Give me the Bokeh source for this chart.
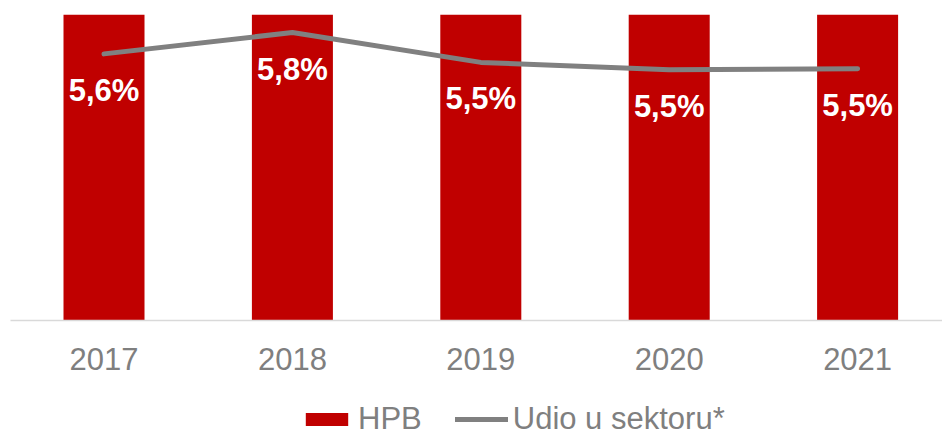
from bokeh.plotting import figure
from bokeh.layouts import column
from bokeh.models import Range1d, LinearAxis, FixedTicker, Legend, LegendItem, ColumnDataSource
from bokeh.core.properties import value
from bokeh.embed import file_html
from bokeh.resources import INLINE

years = [2017, 2018, 2019, 2020, 2021]
hpb = [100, 100, 100, 100, 100]          # bars run past the top of the axis
udio = [5.6, 5.8, 5.52, 5.45, 5.46]      # share in sector (%)
labels = ["5,6%", "5,8%", "5,5%", "5,5%", "5,5%"]
series_names = ["HPB", "Udio u sektoru*"]

FONT = value("Liberation Sans")
GRAY_TXT = "#7f7f7f"
RED = "#C00000"
GRAY_LINE = "#808080"

src = ColumnDataSource(dict(x=years, hpb=hpb, udio=udio, lab=labels))

p = figure(frame_width=932, frame_height=306, output_backend="svg", toolbar_location=None,
           x_range=Range1d(2016.5037, 2021.4506), y_range=Range1d(0, 100),
           min_border_left=10, min_border_right=0, min_border_top=14, min_border_bottom=62,
           x_axis_location=None, y_axis_location=None)
p.outline_line_color = None
p.xgrid.visible = False
p.ygrid.visible = False
p.extra_y_ranges = {"line": Range1d(3.1005, 5.969)}

bars = p.vbar(x="x", top="hpb", width=0.43, source=src, fill_color=RED, line_color=None)
ln = p.line(x="x", y="udio", source=src, y_range_name="line", line_color=GRAY_LINE,
            line_width=5, line_cap="round", line_join="round")
p.text(x="x", y="udio", text="lab", source=src, y_range_name="line", text_font=FONT,
       text_font_style="bold", text_font_size="31px", text_color="white",
       text_align="center", text_baseline="alphabetic", y_offset=36.5)

xa = LinearAxis(ticker=FixedTicker(ticks=years), axis_label=None)
xa.axis_line_color = "#d9d9d9"
xa.axis_line_width = 1.5
xa.major_tick_line_color = None
xa.minor_tick_line_color = None
xa.major_tick_out = 0
xa.major_tick_in = 0
xa.minor_tick_out = 0
xa.minor_tick_in = 0
xa.major_label_text_font = "Liberation Sans"
xa.major_label_text_font_size = "31px"
xa.major_label_text_color = GRAY_TXT
xa.major_label_standoff = 27
p.add_layout(xa, "below")

# legend lives in its own strip below the chart; its sample glyphs are invisible there
lg = figure(width=942, height=74, output_backend="svg", toolbar_location=None,
            x_range=Range1d(0, 1), y_range=Range1d(0, 1),
            min_border_left=0, min_border_right=0, min_border_top=0, min_border_bottom=0,
            x_axis_location=None, y_axis_location=None)
lg.outline_line_color = None
lg.xgrid.visible = False
lg.ygrid.visible = False
lb = lg.vbar(x=[0.5], top=[0], bottom=[0], width=0.01, fill_color=RED, line_color=None)
ll = lg.line(x=[-10, -9], y=[1, 1], line_color=GRAY_LINE, line_width=5, line_cap="round")

legend = Legend(items=[LegendItem(label=series_names[0], renderers=[lb]),
                       LegendItem(label=series_names[1], renderers=[ll])],
                orientation="horizontal", location=(290, 19))
legend.label_text_font = "Liberation Sans"
legend.label_text_font_size = "31px"
legend.label_text_color = GRAY_TXT
legend.label_height = 20
legend.glyph_width = 53
legend.glyph_height = 16
legend.label_standoff = 5
legend.spacing = 33
legend.padding = 0
legend.margin = 0
legend.border_line_color = None
legend.background_fill_alpha = 0
lg.add_layout(legend, "center")

open("out.html", "w").write(file_html(column(p, lg, spacing=0), INLINE))
